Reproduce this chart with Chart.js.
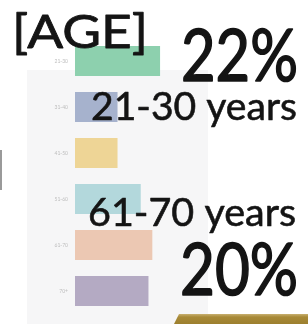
<!DOCTYPE html>
<html>
<head>
<meta charset="utf-8">
<script src="https://cdn.jsdelivr.net/npm/chart.js@4.4.0/dist/chart.umd.min.js"></script>
<style>
  html, body { margin: 0; padding: 0; background: #ffffff; overflow: hidden; }
  #wrap { position: relative; width: 308px; height: 324px; }
  canvas { display: block; }
</style>
</head>
<body>
<div id="wrap"><canvas id="c" width="308" height="324"></canvas></div>
<script>
// ---- data ----
const categories = ["21-30", "31-40", "41-50", "51-60", "61-70", "70+"];
const shares = [22, 11, 11, 17, 20, 19];
const barColors = ["#8dd0ae", "#a6b2cd", "#eed596", "#b3d8dc", "#ecc8b3", "#b4aac3"];
const titleText = "[AGE]";
const topValue = "22%";
const topLabel = "21-30 years";
const lowLabel = "61-70 years";
const lowValue = "20%";

const FONT = "Lato, 'Open Sans', sans-serif";

function fitText(ctx, txt, x, base, size, w, thick) {
  ctx.save();
  ctx.font = size + "px " + FONT;
  ctx.fillStyle = "#141414";
  ctx.strokeStyle = "#141414";
  ctx.lineJoin = "round";
  ctx.textBaseline = "alphabetic";
  ctx.textAlign = "left";
  const m = ctx.measureText(txt).width;
  ctx.translate(x, base);
  ctx.scale(w / m, 1);
  ctx.fillText(txt, 0, 0);
  if (thick) { ctx.lineWidth = thick; ctx.strokeText(txt, 0, 0); }
  ctx.restore();
}

const decor = {
  id: "decor",
  beforeDraw(chart) {
    const ctx = chart.ctx;
    ctx.save();
    // light panel behind the chart
    ctx.fillStyle = "#f6f6f7";
    ctx.fillRect(27, 70, 181, 254);
    // left edge mark
    ctx.fillStyle = "#9a9a9a";
    ctx.fillRect(0, 150, 2, 40);
    // gold band bottom right
    const g = ctx.createLinearGradient(0, 314, 0, 324);
    g.addColorStop(0, "#c8b070");
    g.addColorStop(0.3, "#a88a38");
    g.addColorStop(1, "#9c7f2e");
    ctx.fillStyle = g;
    ctx.beginPath();
    ctx.moveTo(179, 314);
    ctx.lineTo(308, 314);
    ctx.lineTo(308, 324);
    ctx.lineTo(174, 324);
    ctx.closePath();
    ctx.fill();
    ctx.restore();
  },
  afterDraw(chart) {
    const ctx = chart.ctx;
    fitText(ctx, titleText, 12, 48, 46, 136, 0.8);
    fitText(ctx, topValue, 181, 81, 72, 117, 1.6);
    fitText(ctx, topLabel, 91, 120, 39, 206, 0.6);
    fitText(ctx, lowLabel, 88, 226, 39, 208, 0.6);
    fitText(ctx, lowValue, 180, 295, 72, 118, 1.6);
  }
};

function build() {
  new Chart(document.getElementById("c"), {
    type: "bar",
    data: {
      labels: categories,
      datasets: [{
        data: shares,
        backgroundColor: barColors,
        borderWidth: 0,
        categoryPercentage: 1.0,
        barPercentage: 0.65
      }]
    },
    options: {
      indexAxis: "y",
      responsive: false,
      animation: false,
      layout: { padding: { left: 0, right: 117, top: 38, bottom: 0 } },
      plugins: { legend: { display: false }, tooltip: { enabled: false } },
      scales: {
        x: { display: false, min: 0, max: 30 },
        y: {
          grid: { display: false, drawTicks: false },
          border: { display: false },
          ticks: { color: "#bdbdbd", font: { size: 5, family: FONT }, padding: 7 },
          afterFit(scale) { scale.width = 75; }
        }
      }
    },
    plugins: [decor]
  });
}

if (document.fonts && document.fonts.load) {
  Promise.all([document.fonts.load("46px Lato"), document.fonts.load("5px Lato")])
    .then(build, build);
} else {
  build();
}
</script>
</body>
</html>
